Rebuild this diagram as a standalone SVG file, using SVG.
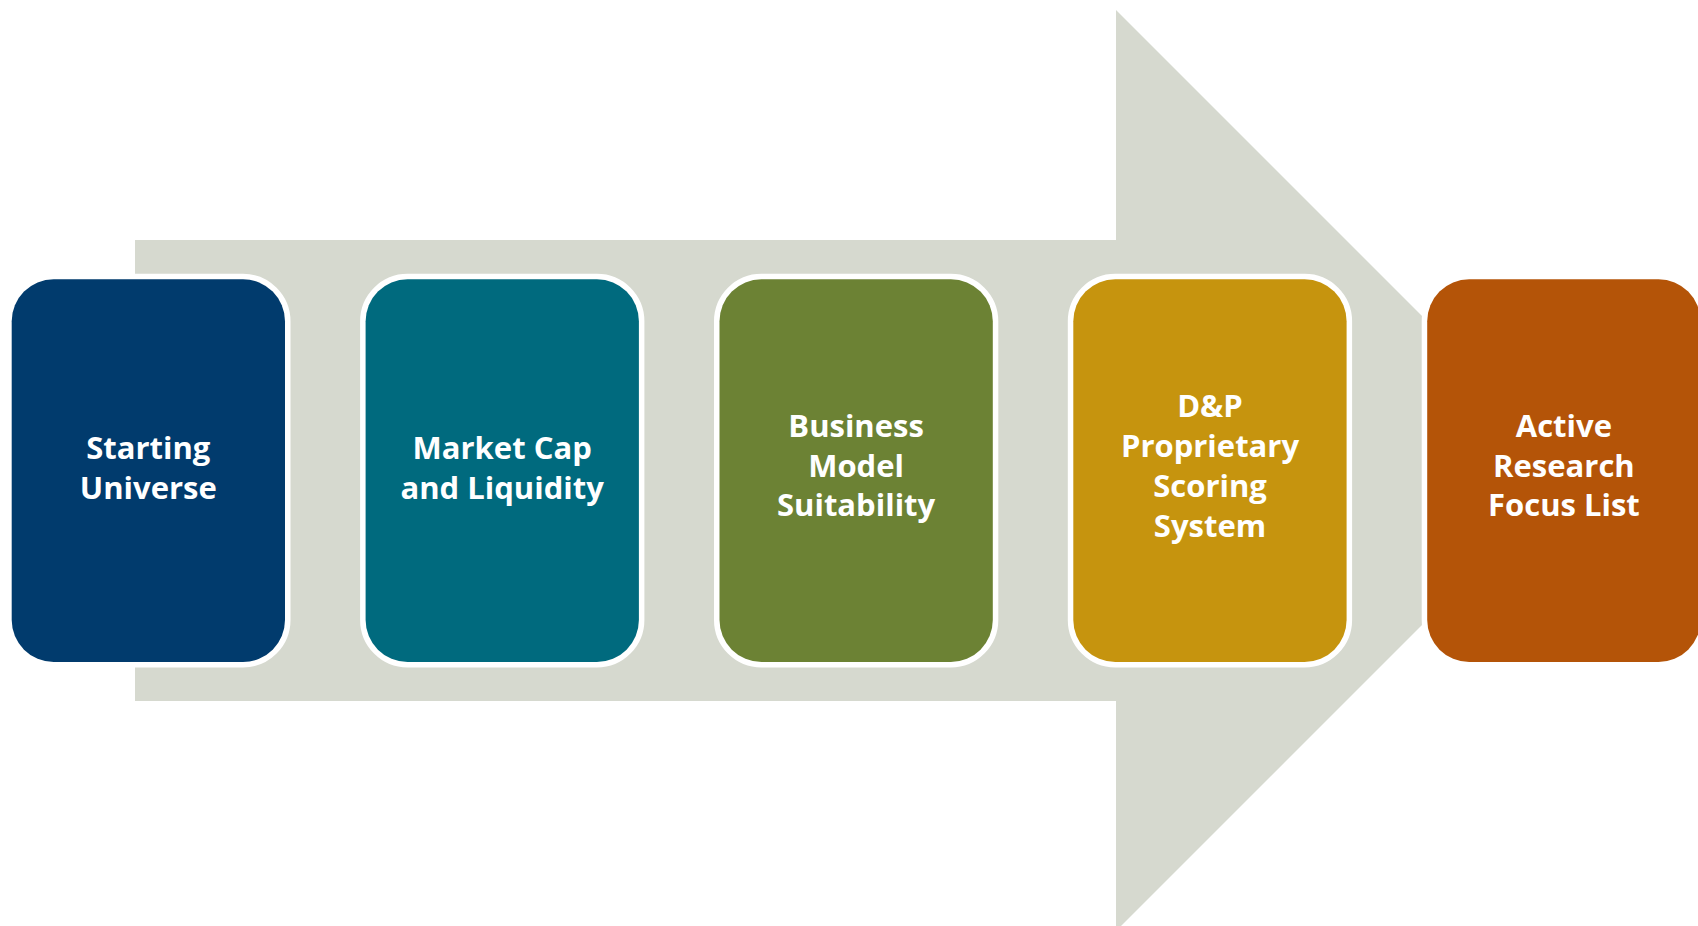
<svg xmlns="http://www.w3.org/2000/svg" width="1698" height="926" viewBox="0 0 1698 926">
<style>
.box{stroke:#ffffff;stroke-width:11;paint-order:stroke}
.lbl{font-family:"Open Sans","Liberation Sans",sans-serif;font-weight:700;font-size:31px;fill:#ffffff;text-anchor:middle}
</style>
<rect width="1698" height="926" fill="#ffffff"/>
<g id="connectors">
<polygon points="135,240 1116,240 1116,10 1576.5,470.5 1116,931 1116,701 135,701" fill="#D6D9CF"/>
</g>
<g id="node1">
<rect class="box" x="11.7" y="279.3" width="273.3" height="382.7" rx="42" fill="#013B6D"/>
<text class="lbl" x="148.3" y="459.3">Starting</text>
<text class="lbl" x="148.3" y="499">Universe</text>
</g>
<g id="node2">
<rect class="box" x="365.6" y="279.3" width="273.3" height="382.7" rx="42" fill="#006A7E"/>
<text class="lbl" x="502.2" y="459.3">Market Cap</text>
<text class="lbl" x="502.2" y="499">and Liquidity</text>
</g>
<g id="node3">
<rect class="box" x="719.5" y="279.3" width="273.3" height="382.7" rx="42" fill="#6C8234"/>
<text class="lbl" x="856.1" y="437.3">Business</text>
<text class="lbl" x="856.1" y="476.5">Model</text>
<text class="lbl" x="856.1" y="515.5">Suitability</text>
</g>
<g id="node4">
<rect class="box" x="1073.3" y="279.3" width="273.3" height="382.7" rx="42" fill="#C6940E"/>
<text class="lbl" x="1210" y="417.3">D&amp;P</text>
<text class="lbl" x="1210" y="457.3">Proprietary</text>
<text class="lbl" x="1210" y="497.3">Scoring</text>
<text class="lbl" x="1210" y="537.3">System</text>
</g>
<g id="node5">
<rect class="box" x="1427.2" y="279.3" width="273.3" height="382.7" rx="42" fill="#B45408"/>
<text class="lbl" x="1563.9" y="437.3">Active</text>
<text class="lbl" x="1563.9" y="476.5">Research</text>
<text class="lbl" x="1563.9" y="515.5">Focus List</text>
</g>
</svg>
